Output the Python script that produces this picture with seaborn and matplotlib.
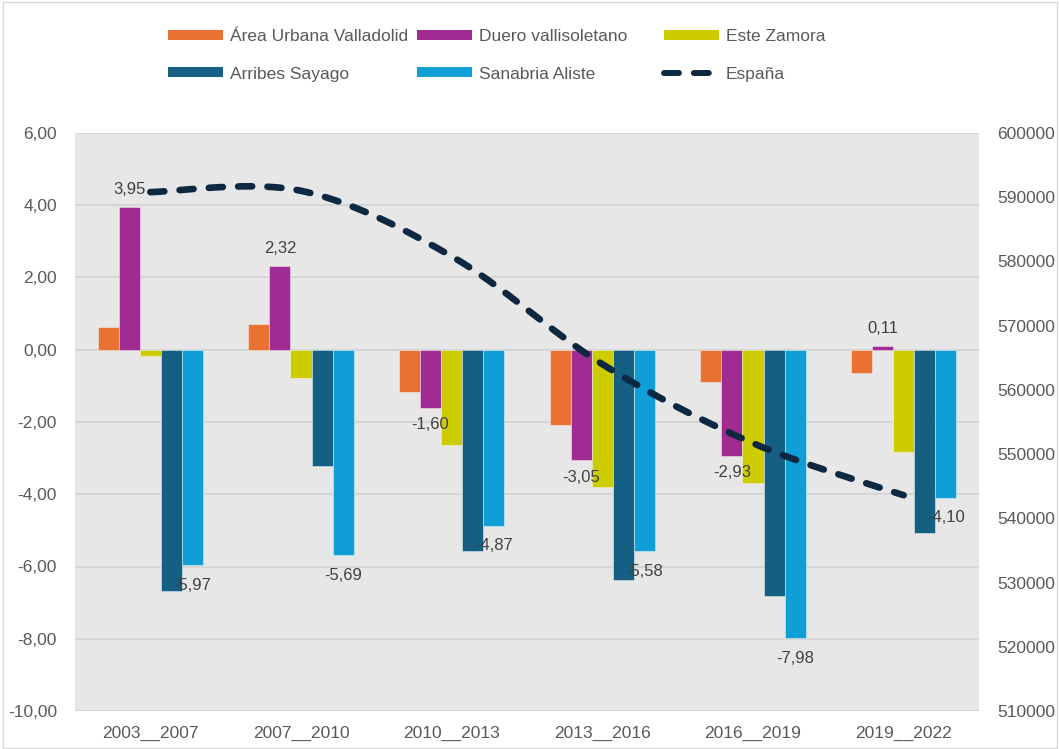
import numpy as np
import pandas as pd
import matplotlib
matplotlib.use("Agg")
import matplotlib.pyplot as plt
from matplotlib.patches import Patch, Rectangle
from matplotlib.lines import Line2D
import seaborn as sns

# ---------------- data ----------------
periodos = ["2003__2007", "2007__2010", "2010__2013", "2013__2016", "2016__2019", "2019__2022"]
zonas = ["Área Urbana Valladolid", "Duero vallisoletano", "Este Zamora", "Arribes Sayago", "Sanabria Aliste"]
area_urbana = [0.62, 0.71, -1.17, -2.08, -0.88, -0.65]
duero = [3.95, 2.32, -1.60, -3.05, -2.93, 0.11]
este_zamora = [-0.16, -0.77, -2.63, -3.79, -3.68, -2.83]
arribes = [-6.69, -3.21, -5.56, -6.37, -6.81, -5.06]
sanabria = [-5.97, -5.69, -4.87, -5.58, -7.98, -4.10]
espana = [590800, 591000, 580800, 564000, 551700, 543600]
left_ticks = [-10, -8, -6, -4, -2, 0, 2, 4, 6]
right_ticks = [510000, 520000, 530000, 540000, 550000, 560000, 570000, 580000, 590000, 600000]

colores = ["#E97132", "#A02B93", "#CCCC00", "#156082", "#0F9ED5"]
linea_color = "#0E2841"

series = [area_urbana, duero, este_zamora, arribes, sanabria]
df = pd.DataFrame({
    "periodo": [p for s in series for p in periodos],
    "zona": [z for z, s in zip(zonas, series) for _ in s],
    "valor": [v for s in series for v in s],
})

sns.set_style("white")
plt.rcParams["font.family"] = ["Liberation Sans", "DejaVu Sans"]

W, H = 1059, 749
fig = plt.figure(figsize=(W / 100, H / 100), dpi=100)
fig.patch.set_facecolor("white")
ax = fig.add_axes([75 / W, 1 - 711 / H, (979 - 75) / W, (711 - 133) / H])
ax.set_facecolor("#E7E7E7")

sns.barplot(data=df, x="periodo", y="valor", hue="zona", order=periodos, hue_order=zonas,
            palette=colores, width=0.7, saturation=1, errorbar=None, legend=False,
            edgecolor=(1, 1, 1, 0.5), linewidth=0.6, ax=ax)

ax.set_xlim(-0.5, 5.5)
ax.set_ylim(-10, 6)
ax.set_yticks(left_ticks)
ax.set_yticklabels([f"{v:.2f}".replace(".", ",") for v in left_ticks])
ax.yaxis.grid(True, color="#D4D4D4", linewidth=1.3)
ax.xaxis.grid(False)
ax.set_axisbelow(True)
ax.set_xlabel("")
ax.set_ylabel("")
for sp in ax.spines.values():
    sp.set_visible(False)
ax.tick_params(axis="y", length=0, pad=13, labelsize=12.5, labelcolor="#595959")
ax.tick_params(axis="x", length=0, pad=11, labelsize=12.5, labelcolor="#595959")

# data labels (Duero and Sanabria)
def fmt(v):
    return f"{v:.2f}".replace(".", ",")

ax.bar_label(ax.containers[1], labels=[fmt(v) for v in duero], padding=7, fontsize=12, color="#404040")
ax.bar_label(ax.containers[4], labels=[fmt(v) for v in sanabria], padding=9, fontsize=12, color="#404040")

# secondary axis with smoothed dashed line
ax2 = ax.twinx()
ax2.set_ylim(510000, 600000)
ax2.set_yticks(right_ticks)
ax2.set_yticklabels([str(v) for v in right_ticks])
ax2.tick_params(axis="y", length=0, pad=13, labelsize=12.5, labelcolor="#595959")
for sp in ax2.spines.values():
    sp.set_visible(False)
ax2.grid(False)

xs = np.arange(len(espana), dtype=float)
ys = np.array(espana, dtype=float)
P = np.column_stack([xs, ys])
pts = []
t = np.linspace(0, 1, 60)
n = len(P)
for i in range(n - 1):
    p0 = P[i]
    p3 = P[i + 1]
    pm = P[i - 1] if i > 0 else P[i]
    pp = P[i + 2] if i + 2 < n else P[i + 1]
    c1 = p0 + (p3 - pm) / 6.0
    c2 = p3 - (pp - p0) / 6.0
    seg = ((1 - t) ** 3)[:, None] * p0 + (3 * (1 - t) ** 2 * t)[:, None] * c1 + \
          (3 * (1 - t) * t ** 2)[:, None] * c2 + (t ** 3)[:, None] * p3
    pts.append(seg if i == 0 else seg[1:])
curve = np.vstack(pts)
ax2.plot(curve[:, 0], curve[:, 1], color=linea_color, linewidth=4.8,
         linestyle=(0, (2.1, 2.3)), dash_capstyle="round", solid_capstyle="round")

# legends (three columns)
leg_kw = dict(loc="upper left", frameon=False, borderpad=0, borderaxespad=0,
              handlelength=3.16, handleheight=0.52, handletextpad=0.4,
              labelspacing=1.3, fontsize=12.5, labelcolor="#595959")
col_x = [168, 417, 664]
h_col1 = [Patch(facecolor=colores[0], edgecolor="none"), Patch(facecolor=colores[3], edgecolor="none")]
h_col2 = [Patch(facecolor=colores[1], edgecolor="none"), Patch(facecolor=colores[4], edgecolor="none")]
h_col3 = [Patch(facecolor=colores[2], edgecolor="none"),
          Line2D([], [], color=linea_color, linewidth=4.3, linestyle=(0, (2.5, 2.5)),
                 dash_capstyle="round")]
top = 1 - 29 / H
fig.legend(h_col1, [zonas[0], zonas[3]], bbox_to_anchor=(col_x[0] / W, top), **leg_kw)
fig.legend(h_col2, [zonas[1], zonas[4]], bbox_to_anchor=(col_x[1] / W, top), **leg_kw)
fig.legend(h_col3, [zonas[2], "España"], bbox_to_anchor=(col_x[2] / W, top), **leg_kw)

# outer chart border
fig.patches.append(Rectangle((2.5 / W, 1.5 / H), (1057 - 2.5) / W, (747.5 - 1.5) / H,
                             transform=fig.transFigure, fill=False, edgecolor="#D9D9D9", linewidth=1))

fig.savefig("out.png", dpi=100)
